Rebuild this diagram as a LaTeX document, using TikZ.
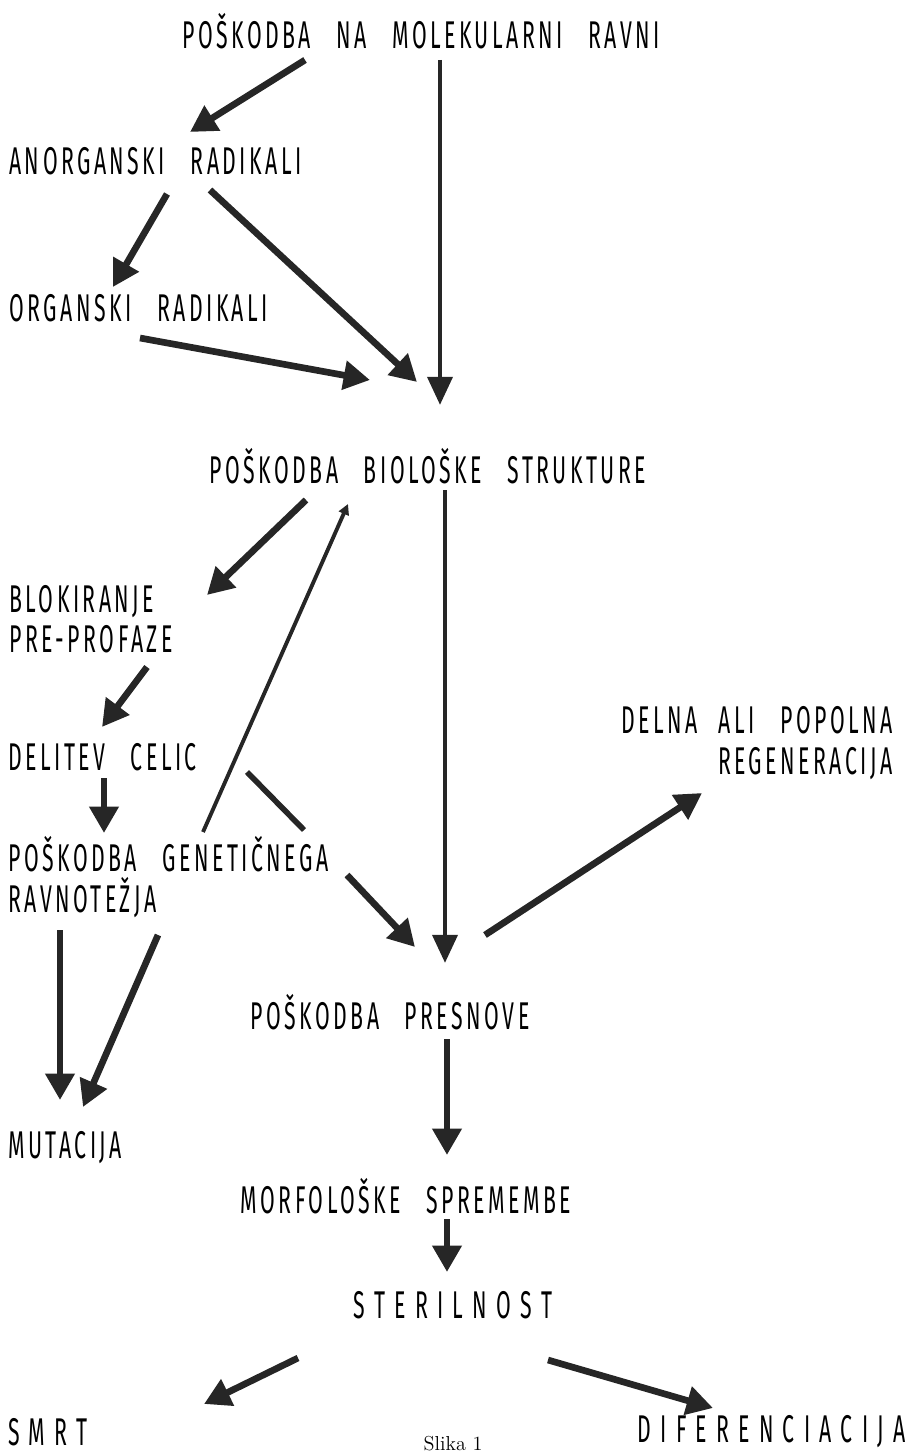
\documentclass[tikz,border=0pt]{standalone}
\usepackage{fontspec}
\usepackage{tikz}
\usetikzlibrary{arrows.meta,positioning}
\newfontfamily\lblfont[FakeStretch=0.55,LetterSpace=9,WordSpace=2.8]{Fira Sans}
\newfontfamily\widefont[FakeStretch=0.55,LetterSpace=24,WordSpace=2.8]{Fira Sans}
\newcommand{\lbltext}{\lblfont\fontsize{22}{23}\selectfont}
\newcommand{\widetext}{\widefont\fontsize{22}{23}\selectfont}
\tikzset{
  lbl/.style={inner sep=0pt,font=\lbltext},
  widelbl/.style={inner sep=0pt,font=\widetext},
  flow/.style={black!85,line width=3.8pt,-{Triangle[length=15pt,width=16pt]}},
  stem/.style={black!85,line width=2.8pt,-{Triangle[length=16pt,width=14pt]}},
  thin/.style={black!85,line width=2.2pt,-{Triangle[length=6pt,width=6pt]}},
}

\begin{document}
\begin{tikzpicture}[x=0.02cm,y=-0.02cm]
\useasboundingbox (0,0) rectangle (912,1456);

% Labels
\node[lbl] (mol) at (421,31) {POŠKODBA NA MOLEKULARNI RAVNI};
\node[lbl,anchor=west] (anorg) at (9,161) {ANORGANSKI RADIKALI};
\node[lbl,anchor=west] (org) at (9,308) {ORGANSKI RADIKALI};
\node[lbl] (bio) at (428,466) {POŠKODBA BIOLOŠKE STRUKTURE};
\node[lbl,anchor=west,align=left] (blok) at (9,619) {BLOKIRANJE\\PRE-PROFAZE};
\node[lbl,anchor=west] (delitev) at (8,757) {DELITEV CELIC};
\node[lbl,anchor=east,align=right] (regen) at (893,743)
  {DELNA\hspace{12pt}ALI POPOLNA\\REGENERACIJA};
\node[lbl,anchor=west,align=left] (genet) at (8,877) {POŠKODBA GENETIČNEGA\\RAVNOTEŽJA};
\node[lbl] (presnova) at (390,1012) {POŠKODBA PRESNOVE};
\node[lbl,anchor=west] (mutacija) at (8,1148) {MUTACIJA};
\node[lbl] (morf) at (406,1196) {MORFOLOŠKE SPREMEMBE};
\node[widelbl] (steril) at (453,1305) {STERILNOST};
\node[widelbl,anchor=west] (smrt) at (8,1432) {SMRT};
\node[widelbl,anchor=east] (dif) at (906,1432) {DIFERENCIACIJA};
\node[inner sep=0pt,font=\rmfamily\fontsize{11.5}{14}\selectfont] (slika) at (453,1444) {Slika 1};

% Arrow ends
\coordinate (a1) at (305,60);   \coordinate (a2) at (190,132);
\coordinate (b1) at (440,60);   \coordinate (b2) at (440,405);
\coordinate (c1) at (167,194);  \coordinate (c2) at (113,287);
\coordinate (d1) at (210,190);  \coordinate (d2) at (417,382);
\coordinate (e1) at (140,338);  \coordinate (e2) at (370,380);
\coordinate (f1) at (306,500);  \coordinate (f2) at (207,595);
\coordinate (g1) at (203,832);  \coordinate (g2) at (348,504);
\coordinate (h1) at (147,667);  \coordinate (h2) at (102,727);
\coordinate (i1) at (104,778);  \coordinate (i2) at (104,833);
\coordinate (j1) at (247,772);  \coordinate (j2) at (304,830);
\coordinate (j3) at (347,875);  \coordinate (j4) at (415,947);
\coordinate (k1) at (445,490);  \coordinate (k2) at (445,963);
\coordinate (l1) at (485,935);  \coordinate (l2) at (702,793);
\coordinate (m1) at (60,930);   \coordinate (m2) at (60,1100);
\coordinate (n1) at (158,935);  \coordinate (n2) at (83,1107);
\coordinate (o1) at (447,1039); \coordinate (o2) at (447,1155);
\coordinate (p1) at (447,1219); \coordinate (p2) at (447,1272);
\coordinate (q1) at (298,1358); \coordinate (q2) at (204,1404);
\coordinate (r1) at (548,1360); \coordinate (r2) at (713,1408);

% Connections
\draw[flow] (a1) -- (a2);
\draw[stem] (b1) -- (b2);
\draw[flow] (c1) -- (c2);
\draw[flow] (d1) -- (d2);
\draw[flow] (e1) -- (e2);
\draw[flow] (f1) -- (f2);
\draw[thin] (g1) -- (g2);
\draw[flow] (h1) -- (h2);
\draw[flow] (i1) -- (i2);
\draw[black!85,line width=3.2pt] (j1) -- (j2);
\draw[flow] (j3) -- (j4);
\draw[stem] (k1) -- (k2);
\draw[flow] (l1) -- (l2);
\draw[flow] (m1) -- (m2);
\draw[flow] (n1) -- (n2);
\draw[flow] (o1) -- (o2);
\draw[flow] (p1) -- (p2);
\draw[flow] (q1) -- (q2);
\draw[flow] (r1) -- (r2);
\end{tikzpicture}
\end{document}
